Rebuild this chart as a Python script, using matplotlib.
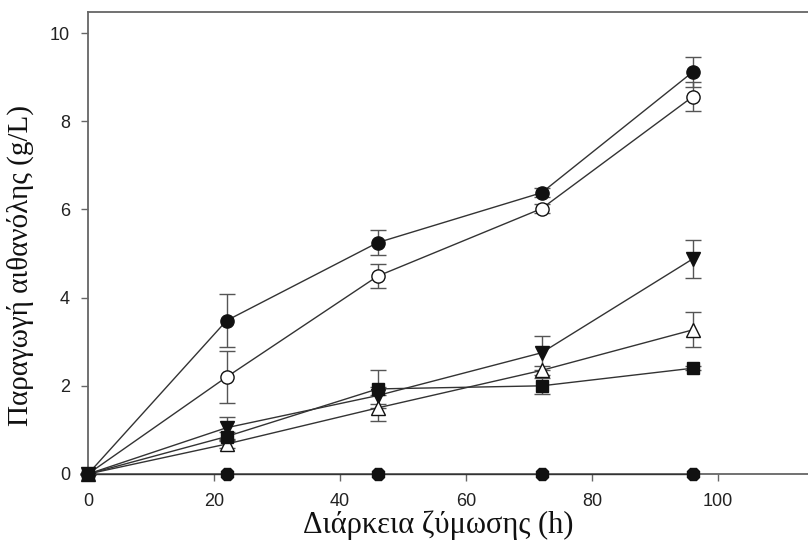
import matplotlib
matplotlib.use("Agg")
import matplotlib.pyplot as plt

# Fermentation time (h)
hours = [0, 22, 46, 72, 96]

# Ethanol production (g/L) and standard deviations for each treatment
filled_circle = [0, 3.48, 5.25, 6.38, 9.12]
filled_circle_err = [0, 0.60, 0.28, 0.10, 0.35]
open_circle = [0, 2.20, 4.49, 6.02, 8.56]
open_circle_err = [0, 0.60, 0.28, 0.10, 0.33]
filled_tri_down = [0, 1.05, 1.78, 2.75, 4.88]
filled_tri_down_err = [0, 0.25, 0.20, 0.38, 0.43]
open_tri_up = [0, 0.68, 1.50, 2.35, 3.27]
open_tri_up_err = [0, 0.10, 0.30, 0.10, 0.40]
filled_square = [0, 0.85, 1.93, 2.00, 2.40]
filled_square_err = [0, 0.10, 0.43, 0.18, 0.05]
control = [0, 0, 0, 0, 0]

fig = plt.figure(figsize=(8.08, 5.43), dpi=100)
ax = fig.add_axes([88 / 808, 69 / 543, 756 / 808, 462 / 543])

line_kw = dict(color="#333333", linewidth=1.0, capsize=6, elinewidth=1.0,
               ecolor="#555555", capthick=1.0, markersize=9.5,
               markeredgecolor="#111111", markeredgewidth=1.0, clip_on=False,
               zorder=3)

ax.errorbar(hours, filled_circle, yerr=filled_circle_err, marker="o",
            markerfacecolor="#111111", **line_kw)
ax.errorbar(hours, open_circle, yerr=open_circle_err, marker="o",
            markerfacecolor="white", **line_kw)
ax.errorbar(hours, filled_tri_down, yerr=filled_tri_down_err, marker="v",
            markerfacecolor="#111111", **line_kw)
ax.errorbar(hours, open_tri_up, yerr=open_tri_up_err, marker="^",
            markerfacecolor="white", **line_kw)
ax.errorbar(hours, filled_square, yerr=filled_square_err, marker="s",
            markerfacecolor="#111111", **dict(line_kw, markersize=8.5))
ax.plot(hours, control, marker="8", color="#333333", linewidth=1.0,
        markersize=9.5, markerfacecolor="#111111", markeredgecolor="#111111",
        clip_on=False, zorder=4)

ax.set_xlim(0, 120)
ax.set_ylim(0, 10.48)
ax.set_xticks([0, 20, 40, 60, 80, 100])
ax.set_yticks([0, 2, 4, 6, 8, 10])
ax.tick_params(direction="out", length=5, width=1.0, color="#666666",
               labelsize=13, labelcolor="#222222")
ax.tick_params(axis="x", pad=9)
ax.tick_params(axis="y", pad=8)
for label in ax.get_xticklabels() + ax.get_yticklabels():
    label.set_family("Liberation Sans")
for spine in ax.spines.values():
    spine.set_color("#666666")
    spine.set_linewidth(1.3)

ax.set_xlabel("Διάρκεια ζύμωσης (h)", family="Liberation Serif",
              fontsize=22, color="#111111")
ax.set_ylabel("Παραγωγή αιθανόλης (g/L)", family="Liberation Serif",
              fontsize=21, color="#111111")
ax.xaxis.set_label_coords(0.463, -0.078)
ax.yaxis.set_label_coords(-0.072, 0.452)

fig.savefig("out.png", dpi=100)
